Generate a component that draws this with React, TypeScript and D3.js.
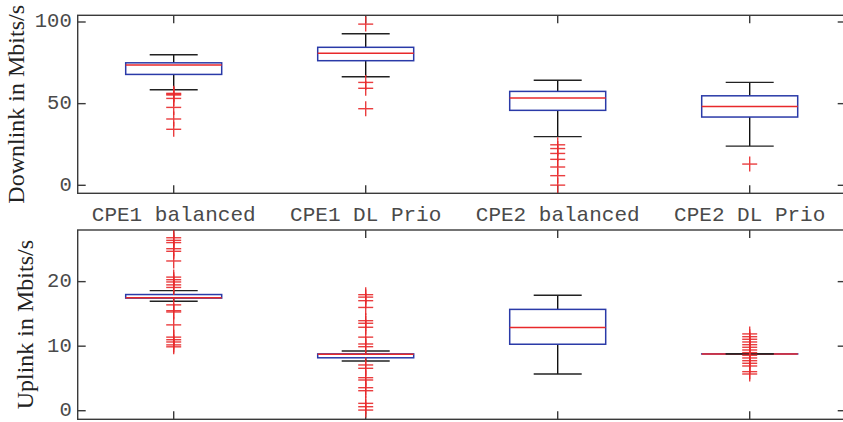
import React from "react";
import * as d3 from "d3";

const categories = ["CPE1 balanced", "CPE1 DL Prio", "CPE2 balanced", "CPE2 DL Prio"];

// Downlink (Mbit/s)
const dlLowWhisker = [58.5, 66.5, 29.8, 24.0];
const dlQ1 = [67.9, 76.3, 45.9, 41.8];
const dlMedian = [73.6, 80.8, 53.4, 48.3];
const dlQ3 = [75.0, 84.5, 57.5, 54.8];
const dlHighWhisker = [79.9, 92.8, 64.3, 63.0];
const dlOutliers = [
  [56.3, 55.8, 55.3, 53.2, 47.7, 40.6, 34.3],
  [98.7, 63.0, 59.4, 46.9],
  [24.8, 22.5, 19.5, 15.9, 11.2, 5.9, 0.1],
  [13.0],
];
const dlTicks = [0, 50, 100];

// Uplink (Mbit/s)
const ulLowWhisker = [16.96, 7.7, 5.7, 8.8];
const ulQ1 = [17.45, 8.2, 10.3, 8.8];
const ulMedian = [17.5, 8.75, 12.9, 8.8];
const ulQ3 = [18.0, 8.8, 15.7, 8.8];
const ulHighWhisker = [18.6, 9.26, 17.9, 8.8];
const ulOutliers = [
  [26.8, 26.4, 26.05, 25.1, 24.7, 23.2, 20.7, 20.3, 19.95, 19.5, 19.1, 16.4, 15.5, 15.3, 13.3, 11.4, 11.0, 10.65, 10.2, 9.9],
  [17.98, 17.6, 17.05, 16.0, 13.95, 13.55, 12.93, 11.4, 10.34, 9.92, 7.09, 6.57, 5.12, 4.76, 3.57, 3.1, 1.14, 0.62, 0.1],
  [],
  [11.9, 11.47, 11.07, 10.65, 10.23, 9.83, 9.41, 9.0, 8.59, 8.17, 7.75, 7.35, 6.93, 6.05, 5.69],
];
const ulTicks = [0, 10, 20];

const W = 843;
const H = 422;
const LEFT = 77.7;
const RIGHT = 845.7;
const AX = "#3a3a3a";
const BLUE = "#2a3aa8";
const RED = "#e8292b";
const TXT = "#4a4a4a";
const MONO = "'Liberation Mono', 'Courier New', monospace";
const SERIF = "'Liberation Serif', 'Times New Roman', serif";

const x = d3.scaleLinear().domain([0.5, 4.5]).range([LEFT, RIGHT]);

type PanelProps = {
  top: number;
  bottom: number;
  domain: [number, number];
  ticks: number[];
  low: number[];
  q1: number[];
  med: number[];
  q3: number[];
  high: number[];
  outliers: number[][];
  label: string;
  labelX: number;
  showXLabels: boolean;
};

function Panel(p: PanelProps) {
  const y = d3.scaleLinear().domain(p.domain).range([p.bottom, p.top]);
  const tl = 8;
  const bw = x(1.25) - x(1);
  const cw = x(1.125) - x(1);
  const ms = 7.5;
  const idx = d3.range(categories.length);
  const clipId = `clip-${Math.round(p.top)}`;
  return (
    <g>
      <defs>
        <clipPath id={clipId}>
          <rect x={LEFT} y={p.top} width={RIGHT - LEFT} height={p.bottom - p.top} />
        </clipPath>
      </defs>
      <rect x={LEFT} y={p.top} width={RIGHT - LEFT} height={p.bottom - p.top} fill="none" stroke={AX} strokeWidth={1.4} />
      {p.ticks.map((t) => (
        <g key={`yt${t}`}>
          <line x1={LEFT} x2={LEFT + tl} y1={y(t)} y2={y(t)} stroke={AX} strokeWidth={1.4} />
          <line x1={RIGHT} x2={RIGHT - tl} y1={y(t)} y2={y(t)} stroke={AX} strokeWidth={1.4} />
          <text x={LEFT - 6} y={y(t)} textAnchor="end" dominantBaseline="central" fontFamily={MONO} fontSize={20.5} fill={TXT}>
            {t}
          </text>
        </g>
      ))}
      {idx.map((i) => (
        <g key={`xt${i}`}>
          <line x1={x(i + 1)} x2={x(i + 1)} y1={p.bottom} y2={p.bottom - tl} stroke={AX} strokeWidth={1.4} />
          <line x1={x(i + 1)} x2={x(i + 1)} y1={p.top} y2={p.top + tl} stroke={AX} strokeWidth={1.4} />
          {p.showXLabels && (
            <text x={x(i + 1)} y={p.bottom + 27.5} textAnchor="middle" fontFamily={MONO} fontSize={21} fill={TXT}>
              {categories[i]}
            </text>
          )}
        </g>
      ))}
      <g clipPath={`url(#${clipId})`}>
        {idx.map((i) => {
          const cx = x(i + 1);
          return (
            <g key={`b${i}`}>
              <line x1={cx} x2={cx} y1={y(p.q3[i])} y2={y(p.high[i])} stroke="#111" strokeWidth={1.4} />
              <line x1={cx} x2={cx} y1={y(p.q1[i])} y2={y(p.low[i])} stroke="#111" strokeWidth={1.4} />
              <rect
                x={cx - bw}
                y={y(p.q3[i])}
                width={2 * bw}
                height={Math.max(0.01, y(p.q1[i]) - y(p.q3[i]))}
                fill="none"
                stroke={BLUE}
                strokeWidth={1.5}
              />
              <line x1={cx - bw} x2={cx + bw} y1={y(p.med[i])} y2={y(p.med[i])} stroke={RED} strokeWidth={1.5} />
              <line x1={cx - cw} x2={cx + cw} y1={y(p.high[i])} y2={y(p.high[i])} stroke="#222" strokeWidth={1.4} />
              <line x1={cx - cw} x2={cx + cw} y1={y(p.low[i])} y2={y(p.low[i])} stroke="#222" strokeWidth={1.4} />
              {p.outliers[i].map((v, k) => (
                <g key={`o${k}`} stroke={RED} strokeWidth={1.4} opacity={0.9}>
                  <line x1={cx - ms} x2={cx + ms} y1={y(v)} y2={y(v)} />
                  <line x1={cx} x2={cx} y1={y(v) - ms} y2={y(v) + ms} />
                </g>
              ))}
            </g>
          );
        })}
      </g>
      <text
        transform={`translate(${p.labelX},${(p.top + p.bottom) / 2}) rotate(-90)`}
        textAnchor="middle"
        fontFamily={SERIF}
        fontSize={24}
        fill="#222"
      >
        {p.label}
      </text>
    </g>
  );
}

export default function App() {
  return (
    <svg
      width={W}
      height={H}
      viewBox={`0 0 ${W} ${H}`}
      style={{ position: "absolute", left: 0, top: 0, background: "#fff" }}
    >
      <rect x={0} y={0} width={W} height={H} fill="#fff" />
      <Panel
        top={15.3}
        bottom={193.3}
        domain={[-4.9, 104.1]}
        ticks={dlTicks}
        low={dlLowWhisker}
        q1={dlQ1}
        med={dlMedian}
        q3={dlQ3}
        high={dlHighWhisker}
        outliers={dlOutliers}
        label="Downlink in Mbits/s"
        labelX={23.5}
        showXLabels={true}
      />
      <Panel
        top={230}
        bottom={419.3}
        domain={[-1.33, 28]}
        ticks={ulTicks}
        low={ulLowWhisker}
        q1={ulQ1}
        med={ulMedian}
        q3={ulQ3}
        high={ulHighWhisker}
        outliers={ulOutliers}
        label="Uplink in Mbits/s"
        labelX={33}
        showXLabels={false}
      />
    </svg>
  );
}
